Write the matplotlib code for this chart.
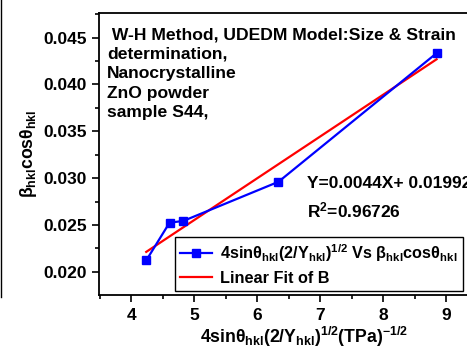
import numpy as np
import matplotlib
matplotlib.use("Agg")
import matplotlib.pyplot as plt
from matplotlib.ticker import MultipleLocator

plt.rcParams['font.family'] = ['Liberation Sans', 'DejaVu Sans']
plt.rcParams['font.weight'] = 'bold'
plt.rcParams['mathtext.fontset'] = 'custom'
plt.rcParams['mathtext.rm'] = 'Liberation Sans:bold'
plt.rcParams['mathtext.it'] = 'Liberation Sans:bold'
plt.rcParams['mathtext.bf'] = 'Liberation Sans:bold'

x_vals = [4.24, 4.61, 4.83, 6.34, 8.85]
y_vals = [0.02121, 0.02524, 0.02543, 0.02961, 0.04334]
x_ticks = [4, 5, 6, 7, 8, 9]
y_ticks = [0.020, 0.025, 0.030, 0.035, 0.040, 0.045]

W, H = 467, 348
fig = plt.figure(figsize=(W/100, H/100), dpi=100)
ax = fig.add_axes([99/W, 53/H, 410/W, 282/H])

x = np.array(x_vals); y = np.array(y_vals)
ax.plot(x, y, color='#0000ff', lw=1.6, marker='s', ms=5.5, mec='#0000ff', mfc='#0000ff',
        label='4sinθ$_{hkl}$(2/Y$_{hkl}$)$^{1/2}$ Vs β$_{hkl}$cosθ$_{hkl}$', zorder=3)
k, b = np.polyfit(x, y, 1)
xf = np.array([x.min(), x.max()])
ax.plot(xf, k*xf + b, color='#ff0000', lw=1.6, label='Linear Fit of B', zorder=2)

ax.set_xlim(3.49, 10.0)
ax.set_ylim(0.01752, 0.04763)
ax.set_xticks(x_ticks)
ax.set_yticks(y_ticks)
ax.set_yticklabels([f'{v:.3f}' for v in y_ticks])
ax.xaxis.set_minor_locator(MultipleLocator(0.5))
ax.yaxis.set_minor_locator(MultipleLocator(0.0025))
ax.tick_params(which='both', direction='out', width=1.2)
ax.tick_params(which='major', length=5, labelsize=12.5, pad=4)
ax.tick_params(which='minor', length=3)
ax.spines['right'].set_visible(False)
for s in ['left', 'bottom', 'top']:
    ax.spines[s].set_linewidth(1.3)

ax.set_xlabel('4sinθ$_{hkl}$(2/Y$_{hkl}$)$^{1/2}$(TPa)$^{-1/2}$', fontsize=12.7, fontweight='bold', labelpad=2)
ax.set_ylabel('β$_{hkl}$cosθ$_{hkl}$', fontsize=12.7, fontweight='bold', labelpad=3)

fig.text(107/W, 1 - 27/H, ' W-H Method, UDEDM Model:Size & Strain\ndetermination,\nNanocrystalline\nZnO powder\nsample S44,',
         fontsize=12.6, fontweight='bold', va='top', ha='left', linespacing=1.38)
fig.text(307/W, 1 - 183/H, 'Y=0.0044X+ 0.01992', fontsize=12.5, fontweight='bold', va='center', ha='left')
fig.text(307/W, 1 - 210/H, 'R$^{2}$=0.96726', fontsize=12.5, fontweight='bold', va='center', ha='left')

leg = ax.legend(loc='lower left', bbox_to_anchor=(175/W, 1 - 291/H), bbox_transform=fig.transFigure,
                fancybox=False, framealpha=1, edgecolor='black', fontsize=11.7, handlelength=2.0,
                borderpad=0.3, labelspacing=0.45, handletextpad=0.5, borderaxespad=0)
leg.get_frame().set_linewidth(1.0)

fig.add_artist(plt.Line2D([1/W, 1/W], [1 - 297/H, 1], color='black', lw=1, transform=fig.transFigure))

fig.savefig('out.png', dpi=100)
